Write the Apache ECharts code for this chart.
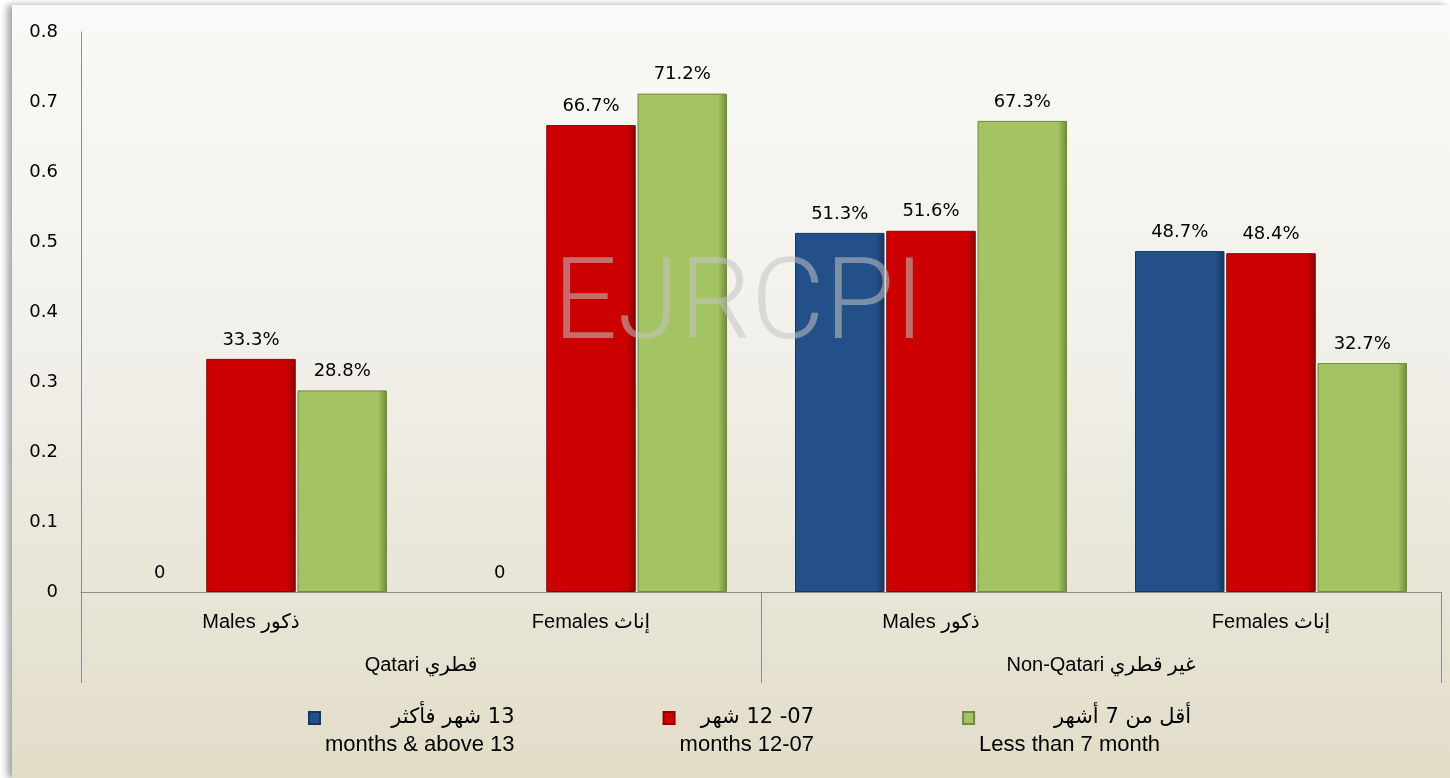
<!DOCTYPE html>
<html>
<head>
<meta charset="utf-8">
<script src="https://cdn.jsdelivr.net/npm/echarts@6/dist/echarts.min.js"></script>
<style>
  html, body { margin: 0; padding: 0; background: #ffffff; }
  #chart {
    position: absolute;
    left: 12px;
    top: 5px;
    width: 1438px;
    height: 773px;
    background: linear-gradient(to bottom, #f9f9f7 0%, #f2f1ec 40%, #e2ddc8 100%);
    box-shadow: -5px 0 7px rgba(0, 0, 0, 0.35);
  }
</style>
</head>
<body>
<div id="chart"></div>
<script>
// 数据
const subCategories = ['Males ذكور', 'Females إناث', 'Males ذكور', 'Females إناث']
const groupCategories = ['Qatari قطري', 'Non-Qatari غير قطري']
const seriesNames = ['13 شهر فأكثر', '07- 12 شهر', 'أقل من 7 أشهر']
const seriesEnglish = ['months & above 13', 'months 12-07', 'Less than 7 month']
const above13 = [0, 0, 0.513, 0.487]
const from7to12 = [0.333, 0.667, 0.516, 0.484]
const below7 = [0.288, 0.712, 0.673, 0.327]

const colors = ['#24508a', '#cc0000', '#a4c362']
const darkColors = ['#163660', '#8a0000', '#6f8a3a']

const chart = echarts.init(document.getElementById('chart'))

function barStyle (i) {
  return {
    color: new echarts.graphic.LinearGradient(0, 0, 1, 0, [
      { offset: 0, color: colors[i] },
      { offset: 0.9, color: colors[i] },
      { offset: 1, color: darkColors[i] }
    ]),
    borderColor: darkColors[i],
    borderWidth: 1
  }
}

function makeSeries (name, data, i) {
  return {
    name: name,
    type: 'bar',
    // 值为0的柱子不画线, 只显示标签
    data: data.map(v => v === 0 ? { value: v, itemStyle: { color: 'transparent', borderWidth: 0 } } : v),
    barGap: '2%',
    barCategoryGap: '20%',
    itemStyle: barStyle(i),
    label: {
      show: true,
      position: 'top',
      distance: 10,
      color: '#000',
      fontFamily: 'DejaVu Sans',
      fontSize: 18,
      formatter: p => (p.value === 0 ? '0' : (p.value * 100).toFixed(1) + '%')
    }
  }
}

const option = {
  animation: false,
  backgroundColor: 'transparent',
  textStyle: { fontFamily: "'Liberation Sans', 'DejaVu Sans', sans-serif" },
  grid: { left: 69, right: 9, top: 27, bottom: 186 },
  legend: {
    left: 296,
    top: 675,
    padding: 0,
    itemWidth: 11,
    itemHeight: 12,
    itemGap: 148,
    icon: 'rect',
    data: seriesNames,
    formatter: function (name) {
      const i = seriesNames.indexOf(name)
      const en = i === 2 ? '{en3|' + seriesEnglish[i] + '}' : '{en|' + seriesEnglish[i] + '}'
      // 阿拉伯文按从右到左排版
      return '{gap| }\n{ar|\u202B' + name + '\u202C}\n' + en
    },
    textStyle: {
      color: '#000',
      rich: {
        gap: { fontSize: 22, lineHeight: 27 },
        ar: { fontSize: 21, lineHeight: 27, align: 'right', color: '#000', fontFamily: "'DejaVu Sans'" },
        en: { fontSize: 22, lineHeight: 27, align: 'right', color: '#000', fontFamily: "'Liberation Sans'" },
        en3: { fontSize: 22, lineHeight: 27, align: 'right', color: '#000', fontFamily: "'Liberation Sans'", padding: [0, 31, 0, 0] }
      }
    }
  },
  xAxis: [
    {
      type: 'category',
      data: subCategories,
      axisLine: { show: true, lineStyle: { color: '#8c8c8c', width: 1 } },
      axisTick: { show: false },
      axisLabel: {
        color: '#000',
        fontSize: 20,
        margin: 20,
        fontFamily: "'Liberation Sans', 'DejaVu Sans'"
      }
    },
    {
      type: 'category',
      data: groupCategories,
      position: 'bottom',
      axisLine: { show: false },
      axisTick: { show: true, length: 91, alignWithLabel: false, lineStyle: { color: '#8c8c8c' } },
      axisLabel: {
        color: '#000',
        fontSize: 20,
        margin: 63,
        fontFamily: "'Liberation Sans', 'DejaVu Sans'"
      }
    }
  ],
  yAxis: {
    type: 'value',
    min: 0,
    max: 0.8,
    interval: 0.1,
    axisLine: { show: true, lineStyle: { color: '#8c8c8c', width: 1 } },
    axisTick: { show: false },
    splitLine: { show: false },
    axisLabel: {
      color: '#000',
      fontSize: 18,
      margin: 23,
      fontFamily: 'DejaVu Sans',
      formatter: v => (v === 0 ? '0' : v.toFixed(1))
    }
  },
  graphic: [
    {
      type: 'text',
      left: 541,
      top: 248,
      z: 100,
      silent: true,
      style: {
        text: 'EJRCPI',
        fontFamily: 'Roboto',
        fontWeight: 300,
        fontSize: 113,
        fill: 'rgba(195, 195, 195, 0.55)'
      }
    }
  ],
  series: [
    makeSeries(seriesNames[0], above13, 0),
    makeSeries(seriesNames[1], from7to12, 1),
    makeSeries(seriesNames[2], below7, 2)
  ]
}

chart.setOption(option)
</script>
</body>
</html>
